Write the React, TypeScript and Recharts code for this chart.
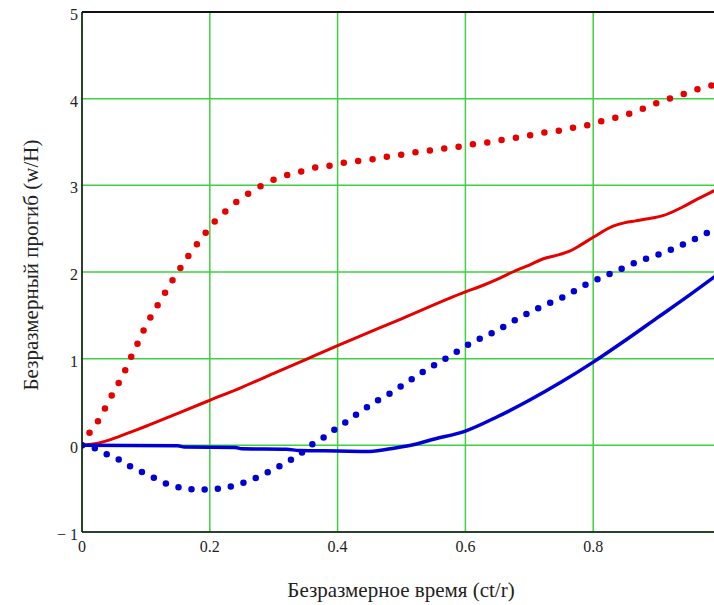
import React from 'react';
import { LineChart, Line, XAxis, YAxis, CartesianGrid, ReferenceLine, Label } from 'recharts';

const xTicks = [0, 0.2, 0.4, 0.6, 0.8];
const yTicks = [-1, 0, 1, 2, 3, 4, 5];

const xTitle = 'Безразмерное время (ct/r)';
const yTitle = 'Безразмерный прогиб (w/H)';

// red dotted
const redDotT = [0, 0.011, 0.026, 0.039, 0.052, 0.064, 0.075, 0.086, 0.096, 0.109, 0.121, 0.134, 0.147, 0.161, 0.174, 0.187, 0.198, 0.214, 0.231, 0.247, 0.264, 0.282, 0.302, 0.326, 0.348, 0.368, 0.39, 0.41, 0.432, 0.455, 0.476, 0.498, 0.521, 0.543, 0.562, 0.585, 0.607, 0.631, 0.655, 0.68, 0.702, 0.724, 0.746, 0.766, 0.788, 0.813, 0.835, 0.854, 0.873, 0.892, 0.911, 0.932, 0.952, 0.972, 0.99, 1.0];
const redDotV = [0, 0.135, 0.29, 0.47, 0.65, 0.81, 0.99, 1.16, 1.32, 1.5, 1.65, 1.81, 1.97, 2.12, 2.27, 2.38, 2.5, 2.63, 2.74, 2.84, 2.92, 3.0, 3.07, 3.13, 3.17, 3.21, 3.23, 3.26, 3.28, 3.3, 3.33, 3.35, 3.38, 3.4, 3.42, 3.44, 3.47, 3.49, 3.52, 3.55, 3.58, 3.61, 3.63, 3.66, 3.69, 3.74, 3.78, 3.82, 3.87, 3.93, 3.98, 4.03, 4.08, 4.13, 4.16, 4.18];

// red solid
const redLineT = [0, 0.025, 0.05, 0.075, 0.1, 0.15, 0.2, 0.25, 0.3, 0.35, 0.4, 0.5, 0.6, 0.622, 0.654, 0.674, 0.7, 0.721, 0.747, 0.763, 0.78, 0.8, 0.831, 0.85, 0.867, 0.89, 0.909, 0.94, 0.96, 0.987, 1.0];
const redLineV = [0, 0.025, 0.08, 0.15, 0.22, 0.37, 0.52, 0.67, 0.83, 0.99, 1.15, 1.46, 1.77, 1.83, 1.93, 2.0, 2.08, 2.15, 2.2, 2.24, 2.31, 2.4, 2.53, 2.57, 2.59, 2.62, 2.65, 2.75, 2.83, 2.93, 2.98];

// blue dotted
const blueDotT = [0, 0.022, 0.041, 0.059, 0.077, 0.097, 0.114, 0.135, 0.156, 0.179, 0.199, 0.221, 0.241, 0.26, 0.28, 0.304, 0.324, 0.344, 0.362, 0.38, 0.397, 0.415, 0.43, 0.446, 0.463, 0.482, 0.501, 0.534, 0.571, 0.609, 0.648, 0.684, 0.719, 0.753, 0.79, 0.83, 0.87, 0.913, 0.95, 0.987, 1.0];
const blueDotV = [0, -0.04, -0.11, -0.17, -0.25, -0.32, -0.38, -0.45, -0.49, -0.51, -0.51, -0.49, -0.46, -0.41, -0.35, -0.26, -0.18, -0.085, 0.02, 0.1, 0.19, 0.28, 0.36, 0.44, 0.52, 0.6, 0.69, 0.85, 1.01, 1.18, 1.32, 1.47, 1.6, 1.71, 1.86, 1.99, 2.12, 2.23, 2.35, 2.48, 2.52];

// blue solid
const blueLineT = [0, 0.15, 0.16, 0.24, 0.25, 0.32, 0.34, 0.4, 0.45, 0.49, 0.52, 0.55, 0.6, 0.65, 0.7, 0.75, 0.8, 0.85, 0.9, 0.95, 1.0];
const blueLineV = [0, -0.005, -0.02, -0.025, -0.04, -0.045, -0.06, -0.065, -0.07, -0.03, 0.01, 0.07, 0.165, 0.33, 0.52, 0.73, 0.96, 1.21, 1.47, 1.73, 2.0];

const toPts = (ts: number[], vs: number[]) => ts.map((t, i) => ({ t, v: vs[i] }));
const redDot = toPts(redDotT, redDotV);
const redLine = toPts(redLineT, redLineV);
const blueDot = toPts(blueDotT, blueDotV);
const blueLine = toPts(blueLineT, blueLineV);

const FONT = 'Liberation Serif';
const RED = '#e60000';
const BLUE = '#0000d4';
const GRID = '#3fd03f';

const XTick = (props: any) => {
  const { x, y, payload } = props;
  return (
    <text x={x} y={y} dy={20} textAnchor="middle" fontFamily={FONT} fontSize={16} fill="#222">
      {String(payload.value)}
    </text>
  );
};

const YTick = (props: any) => {
  const { x, y, payload } = props;
  const v = payload.value as number;
  const label = v < 0 ? '\u2212 ' + Math.abs(v) : String(v);
  return (
    <text x={x - 4} y={y} dy={8} textAnchor="end" fontFamily={FONT} fontSize={16} fill="#222">
      {label}
    </text>
  );
};

export default function App() {
  return (
    <div style={{ position: 'absolute', left: 0, top: 0, width: 714, height: 605, overflow: 'hidden', background: '#fff' }}>
      <LineChart width={730} height={605} margin={{ top: 12, right: 9, left: 0, bottom: 43 }}>
        <CartesianGrid stroke={GRID} strokeWidth={1.5} />
        <XAxis
          dataKey="t"
          type="number"
          domain={[0, 1]}
          ticks={xTicks}
          allowDataOverflow
          tickLine={false}
          tickSize={0}
          tickMargin={0}
          height={30}
          axisLine={{ stroke: '#111', strokeWidth: 1.5 }}
          tick={<XTick />}
        >
          <Label
            content={() => (
              <text x={401} y={597} textAnchor="middle" fontFamily={FONT} fontSize={21} fill="#222">
                {xTitle}
              </text>
            )}
          />
        </XAxis>
        <YAxis
          type="number"
          domain={[-1, 5]}
          ticks={yTicks}
          allowDataOverflow
          width={82}
          tickLine={false}
          tickSize={0}
          tickMargin={0}
          axisLine={{ stroke: '#111', strokeWidth: 1.5 }}
          tick={<YTick />}
        >
          <Label
            content={() => (
              <text
                x={31}
                y={265}
                transform="rotate(-90 31 265)"
                textAnchor="middle"
                dominantBaseline="central"
                fontFamily={FONT}
                fontSize={21}
                fill="#222"
              >
                {yTitle}
              </text>
            )}
          />
        </YAxis>
        <ReferenceLine y={5} stroke="#111" strokeWidth={2} />
        <Line data={redLine} dataKey="v" type="monotone" stroke={RED} strokeWidth={3} dot={false} activeDot={false} isAnimationActive={false} />
        <Line data={redDot} dataKey="v" type="monotone" stroke={RED} strokeWidth={6.5} strokeDasharray="0 14.5" strokeLinecap="round" dot={false} activeDot={false} isAnimationActive={false} />
        <Line data={blueDot} dataKey="v" type="monotone" stroke={BLUE} strokeWidth={6.5} strokeDasharray="0 13.2" strokeLinecap="round" dot={false} activeDot={false} isAnimationActive={false} />
        <Line data={blueLine} dataKey="v" type="monotone" stroke={BLUE} strokeWidth={3.5} dot={false} activeDot={false} isAnimationActive={false} />
      </LineChart>
    </div>
  );
}
